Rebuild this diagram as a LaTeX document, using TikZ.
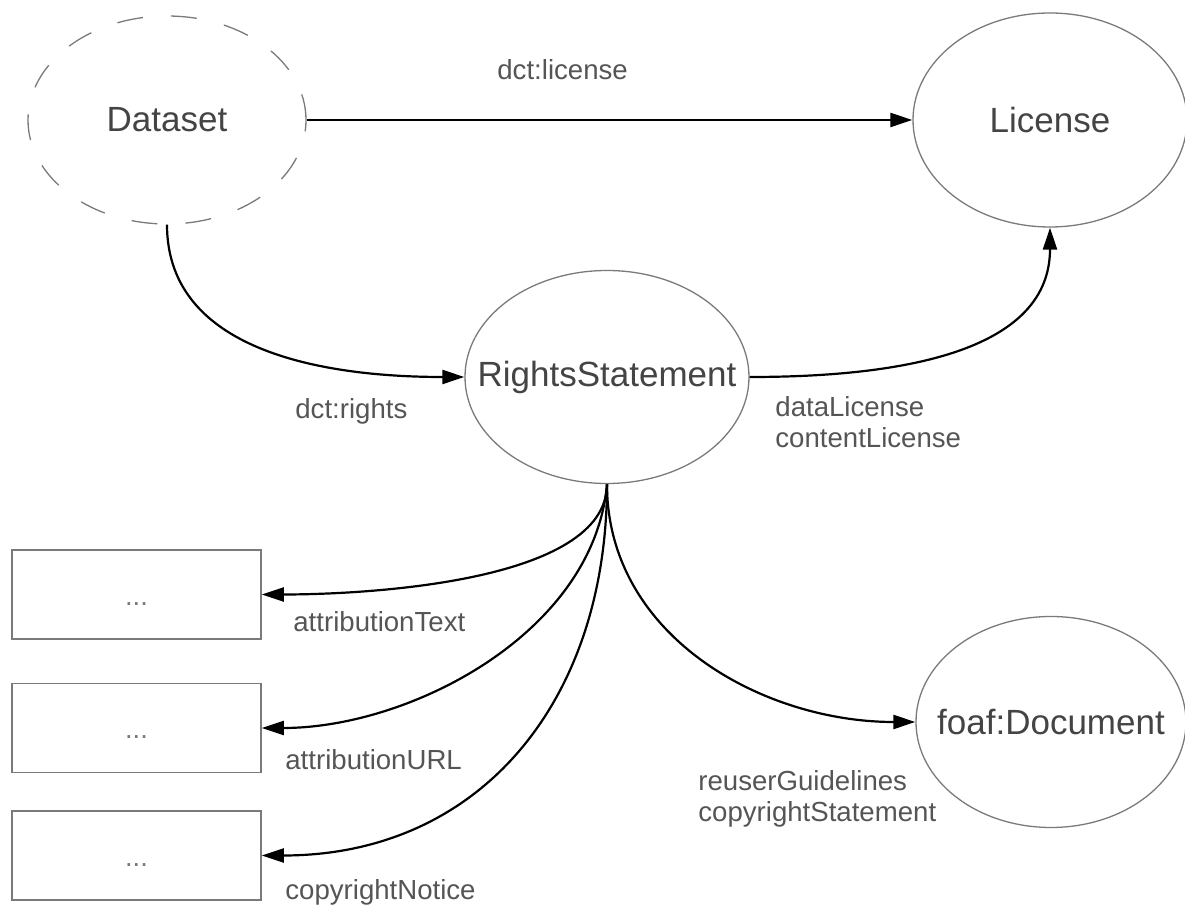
\documentclass[tikz,border=0pt]{standalone}
\usepackage{fontspec}
\setmainfont{Liberation Sans}
\usetikzlibrary{arrows.meta,shapes.geometric}
\definecolor{txtgray}{HTML}{444444}
\definecolor{lblgray}{HTML}{555555}
\definecolor{linegray}{HTML}{7A7A7A}

\begin{document}
\begin{tikzpicture}[x=0.5pt, y=-0.5pt,
    cls/.style={ellipse, draw=linegray, line width=0.65pt, inner sep=0pt},
    clstext/.style={font=\fontsize{17.5}{21}\selectfont, text=txtgray},
    valbox/.style={draw=linegray, line width=0.8pt, minimum width=124.5pt, minimum height=44.5pt,
        font=\fontsize{13.7}{16}\selectfont, text=linegray, text height=2ex, text depth=0pt},
    prop/.style={font=\fontsize{13.8}{15.5}\selectfont, text=lblgray, anchor=west, inner sep=0pt, align=left},
    rel/.style={-{Triangle[length=11pt,width=7pt]}, line width=1.1pt, black}]
    \useasboundingbox (0,0) rectangle (1185,908);

    % classes
    \node[cls, dashed, dash pattern=on 13pt off 14pt, minimum width=139pt, minimum height=104pt,
        label={[clstext]center:Dataset}] (dataset) at (167,120) {};
    \node[cls, minimum width=137pt, minimum height=107pt,
        label={[clstext]center:License}] (license) at (1050,120) {};
    \node[cls, minimum width=142pt, minimum height=106.5pt,
        label={[clstext]center:RightsStatement}] (rights) at (607,377) {};
    \node[cls, minimum width=135pt, minimum height=105.5pt,
        label={[clstext]center:foaf:Document}] (foafdoc) at (1051,722) {};

    % literal values
    \node[valbox] (textbox) at (136.5,594.5) {...};
    \node[valbox] (urlbox) at (136.5,728) {...};
    \node[valbox] (noticebox) at (136.5,855.5) {...};

    % properties
    \draw[rel] (dataset.east) -- (license.west);
    \draw[rel] (dataset.south) to[out=-90, in=180] (rights.west);
    \draw[rel] (rights.east) to[out=0, in=-90] (license.south);
    \draw[rel] (rights.south) to[out=-90, in=0, looseness=0.7] (textbox.east);
    \draw[rel] (rights.south) to[out=-95, in=0, looseness=0.9] (urlbox.east);
    \draw[rel] (rights.south) to[out=-90, in=0, looseness=1.1] (noticebox.east);
    \draw[rel] (rights.south) to[out=-90, in=180] (foafdoc.west);

    \node[prop] (licenselbl) at (497,70) {dct:license};
    \node[prop] (rightslbl) at (295,411) {dct:rights};
    \node[prop] (datalbl) at (775,422) {dataLicense\\contentLicense};
    \node[prop] (textlbl) at (293,622) {attributionText};
    \node[prop] (urllbl) at (285,760) {attributionURL};
    \node[prop] (noticelbl) at (285,892) {copyrightNotice};
    \node[prop] (reuselbl) at (698,799) {reuserGuidelines\\copyrightStatement};
\end{tikzpicture}
\end{document}
